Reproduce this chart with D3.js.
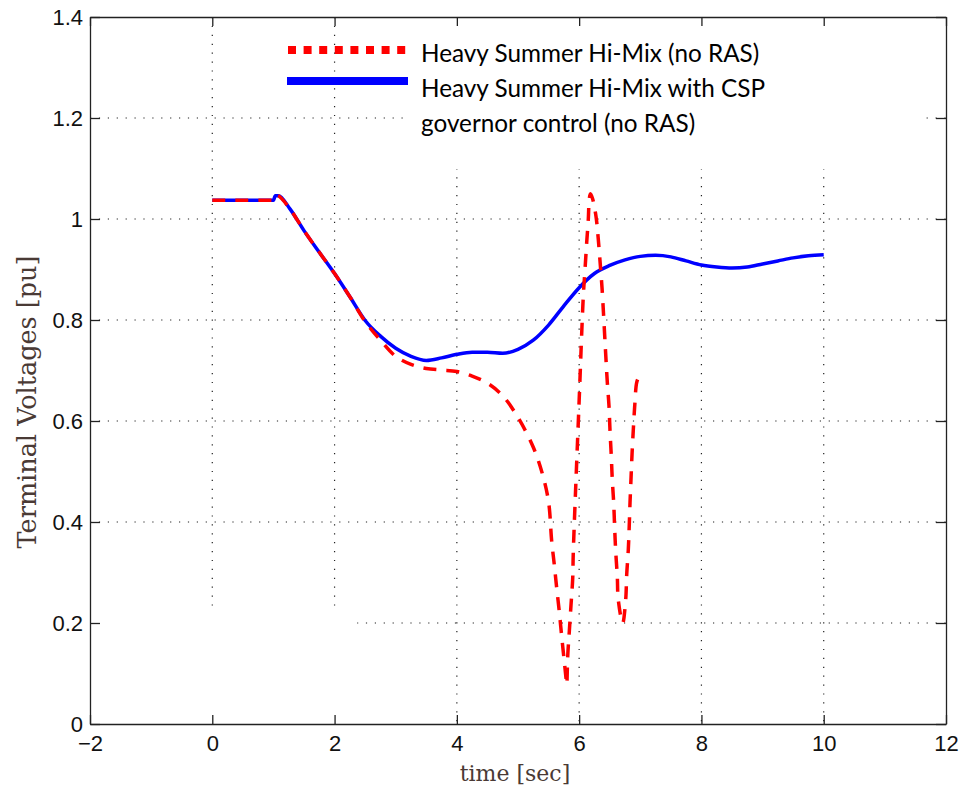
<html lang="en">
<head>
<meta charset="UTF-8">
<title>Terminal Voltages</title>
<script src="https://d3js.org/d3.v7.min.js"></script>
<style>
  body { margin: 0; background: #fff; }
</style>
</head>
<body>
<div id="chart"></div>
<script>
// axis ticks
const xTicks = [-2, 0, 2, 4, 6, 8, 10, 12];
const yTicks = [0, 0.2, 0.4, 0.6, 0.8, 1.0, 1.2, 1.4];

// series names
const seriesNames = ["Heavy Summer Hi-Mix (no RAS)",
                     "Heavy Summer Hi-Mix with CSP", "governor control (no RAS)"];

// with CSP governor control (blue)
const blueT = [0, 0.5, 1.0, 1.03, 1.08, 1.27, 1.5, 1.75, 2.0, 2.25, 2.5, 2.75, 3.0, 3.25, 3.5, 3.75,
  4.0, 4.25, 4.5, 4.75, 5.0, 5.25, 5.5, 5.75, 6.0, 6.25, 6.5, 6.75, 7.0, 7.25, 7.5, 7.75,
  8.0, 8.25, 8.5, 8.75, 9.0, 9.25, 9.5, 9.75, 10.0];
const blueV = [1.037, 1.037, 1.037, 1.046, 1.046, 1.02, 0.977, 0.934, 0.892, 0.846, 0.799, 0.768, 0.744, 0.728, 0.72, 0.725,
  0.732, 0.736, 0.736, 0.734, 0.742, 0.76, 0.79, 0.828, 0.864, 0.892, 0.908, 0.919, 0.926, 0.928, 0.925, 0.917,
  0.909, 0.905, 0.903, 0.905, 0.911, 0.917, 0.923, 0.927, 0.929];

// no RAS (red dashed)
const redT = [0, 0.5, 0.9, 0.98, 1.0, 1.03, 1.08, 1.27, 1.5, 1.75, 2.0, 2.25, 2.5, 2.75, 3.0, 3.25, 3.5, 3.75,
  4.0, 4.25, 4.5, 4.75, 5.0, 5.25, 5.4, 5.5, 5.551, 5.594, 5.633, 5.675, 5.715, 5.757, 5.785, 5.797,
  5.813, 5.839, 5.867, 5.895, 5.904, 6.0, 6.068, 6.096, 6.124, 6.15, 6.166, 6.185, 6.22, 6.276, 6.313, 6.352, 6.374,
  6.439, 6.461, 6.488, 6.505, 6.526, 6.542, 6.565, 6.581, 6.598, 6.624, 6.64, 6.712,
  6.761, 6.778, 6.804, 6.819, 6.832, 6.849, 6.865, 6.886, 6.909, 6.941, 6.968, 7.0];
const redV = [1.037, 1.037, 1.037, 1.037, 1.037, 1.046, 1.046, 1.02, 0.977, 0.934, 0.892, 0.846, 0.797, 0.76, 0.728, 0.712, 0.704, 0.701,
  0.698, 0.689, 0.675, 0.65, 0.607, 0.548, 0.495, 0.44, 0.362, 0.315, 0.269, 0.223, 0.173, 0.124, 0.091, 0.078,
  0.134, 0.183, 0.236, 0.289, 0.339, 0.64, 0.847, 0.9, 0.954, 1.0, 1.04, 1.05, 1.04, 1.005, 0.96, 0.9, 0.864,
  0.722, 0.676, 0.63, 0.58, 0.53, 0.484, 0.438, 0.388, 0.342, 0.292, 0.246, 0.2,
  0.246, 0.296, 0.345, 0.391, 0.438, 0.488, 0.534, 0.583, 0.63, 0.676, 0.684, 0.68];

const W = 963, H = 790;
const margin = {top: 17, right: 17, bottom: 66, left: 90};
const width = W - margin.left - margin.right;
const height = H - margin.top - margin.bottom;

const root = d3.select("#chart").append("svg")
  .attr("width", W)
  .attr("height", H);

const svg = root.append("g")
  .attr("transform", `translate(${margin.left}, ${margin.top})`);

const x = d3.scaleLinear().domain([-2, 12]).range([0, width]);
const y = d3.scaleLinear().domain([0, 1.4]).range([height, 0]);

// dotted grid
svg.append("g").selectAll("line.vg")
  .data(xTicks.slice(1, -1))
  .enter().append("line")
    .attr("x1", d => x(d)).attr("x2", d => x(d))
    .attr("y1", 0).attr("y2", height)
    .attr("stroke", "#222").attr("stroke-width", 1.2)
    .attr("stroke-dasharray", "1.2,7.7");

svg.append("g").selectAll("line.hg")
  .data(yTicks.slice(1, -1))
  .enter().append("line")
    .attr("x1", 0).attr("x2", width)
    .attr("y1", d => y(d)).attr("y2", d => y(d))
    .attr("stroke", "#222").attr("stroke-width", 1.2)
    .attr("stroke-dasharray", "1.2,7.7");

// white patches that hide parts of the grid (as in the original figure)
svg.append("rect")
  .attr("x", x(-2) + 1).attr("y", y(0.228))
  .attr("width", x(2.37) - x(-2) - 1).attr("height", y(0) - y(0.228) - 1)
  .attr("fill", "#fff");
svg.append("rect")
  .attr("x", x(3.15)).attr("y", 1)
  .attr("width", x(11.67) - x(3.15)).attr("height", y(1.099) - 1)
  .attr("fill", "#fff");

// axes with inward ticks on all four sides
const fmt = d => String(+d.toFixed(1)).replace("-", "\u2212");

const gx = svg.append("g")
  .attr("transform", `translate(0, ${height})`)
  .call(d3.axisBottom(x).tickValues(xTicks).tickSize(-9).tickSizeOuter(0).tickPadding(11).tickFormat(fmt));
const gy = svg.append("g")
  .call(d3.axisLeft(y).tickValues(yTicks).tickSize(-10).tickSizeOuter(0).tickPadding(7).tickFormat(fmt));
const gt = svg.append("g")
  .call(d3.axisTop(x).tickValues(xTicks).tickSize(-9).tickSizeOuter(0).tickFormat(""));
const gr = svg.append("g")
  .attr("transform", `translate(${width}, 0)`)
  .call(d3.axisRight(y).tickValues(yTicks).tickSize(-10).tickSizeOuter(0).tickFormat(""));

[gx, gy, gt, gr].forEach(g => {
  g.select(".domain").attr("stroke", "#222").attr("stroke-width", 1.3);
  g.selectAll(".tick line").attr("stroke", "#222").attr("stroke-width", 1.3);
  g.selectAll(".tick text")
    .attr("fill", "#111")
    .style("font-family", "'Liberation Sans', Arial, sans-serif")
    .style("font-size", "22px");
});

// lines
const blueData = blueT.map((t, i) => [t, blueV[i]]);
const redData = redT.map((t, i) => [t, redV[i]]);

const line = d3.line()
  .x(d => x(d[0]))
  .y(d => y(d[1]))
  .curve(d3.curveMonotoneX);

svg.append("path")
  .datum(blueData)
  .attr("d", line)
  .attr("fill", "none")
  .attr("stroke", "#0000ff")
  .attr("stroke-width", 3.5);

const lineR = d3.line()
  .x(d => x(d[0]))
  .y(d => y(d[1]))
  .curve(d3.curveCatmullRom.alpha(0.5));

svg.append("path")
  .datum(redData)
  .attr("d", lineR)
  .attr("fill", "none")
  .attr("stroke", "#ff0000")
  .attr("stroke-width", 3.5)
  .attr("stroke-linejoin", "round")
  .attr("stroke-dasharray", "13,10");

// axis labels
root.append("text")
  .attr("x", 515).attr("y", 781)
  .attr("text-anchor", "middle")
  .attr("fill", "#4a3a35")
  .style("font-family", "'DejaVu Serif', 'Liberation Serif', serif")
  .style("font-size", "22px")
  .text("time [sec]");

root.append("text")
  .attr("transform", "translate(36, 402) rotate(-90)")
  .attr("text-anchor", "middle")
  .attr("fill", "#4a3a35")
  .style("font-family", "'DejaVu Serif', 'Liberation Serif', serif")
  .style("font-size", "25.5px")
  .text("Terminal Voltages [pu]");

// legend
const legend = root.append("g");
legend.append("line")
  .attr("x1", 288).attr("x2", 407).attr("y1", 50).attr("y2", 50)
  .attr("stroke", "#ff0000").attr("stroke-width", 8)
  .attr("stroke-dasharray", "8,7.6");
legend.append("line")
  .attr("x1", 287).attr("x2", 408).attr("y1", 81).attr("y2", 81)
  .attr("stroke", "#0000ff").attr("stroke-width", 8);

legend.selectAll("text")
  .data(seriesNames)
  .enter().append("text")
    .attr("x", 421)
    .attr("y", (d, i) => 62 + i * 35)
    .attr("fill", "#000")
    .style("font-family", "Lato, 'Open Sans', sans-serif")
    .style("font-size", "24.3px")
    .text(d => d);
</script>
</body>
</html>
